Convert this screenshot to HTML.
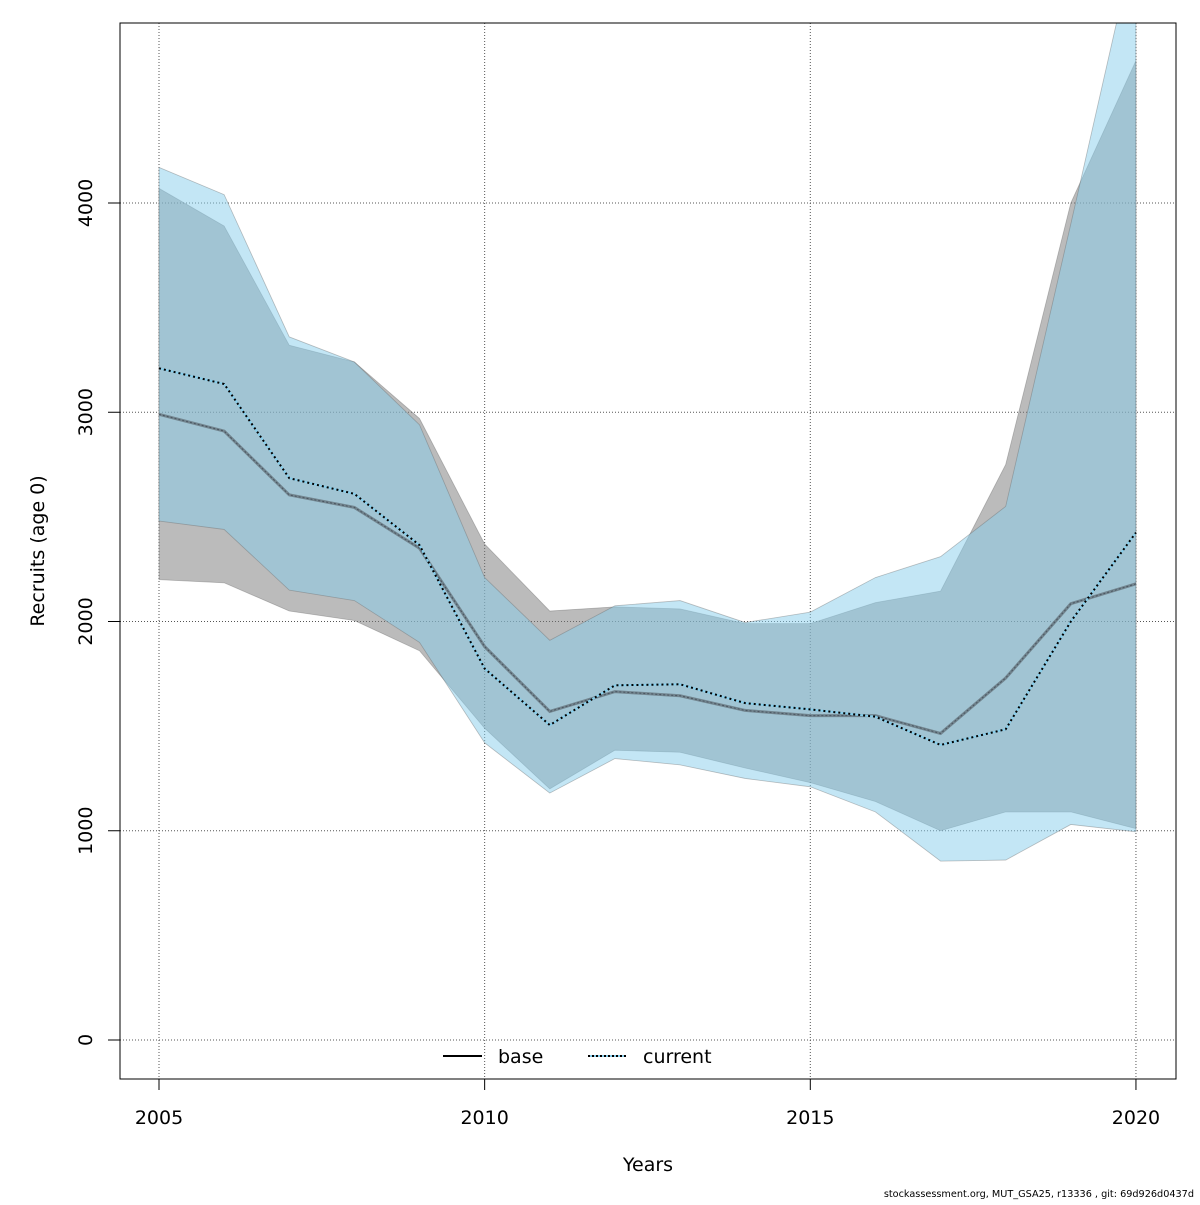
<!DOCTYPE html>
<html><head><meta charset="utf-8"><style>
html,body{margin:0;padding:0;background:#fff;}
svg text{font-family:"DejaVu Sans","Liberation Sans",sans-serif;fill:#000;}
</style></head><body>
<svg id="chart" width="1200" height="1200" viewBox="0 0 1200 1200" xmlns="http://www.w3.org/2000/svg">
<g id="grid"></g>
<g id="bands" clip-path="url(#clip)"></g>
<g id="lines" clip-path="url(#clip)"></g>
<defs><clipPath id="clip"><rect x="120" y="23" width="1056" height="1056"/></clipPath></defs>
<rect x="120" y="23" width="1056" height="1056" fill="none" stroke="#000" stroke-width="1"/>
<g id="axes"></g>
<text x="648" y="1171" font-size="19" text-anchor="middle">Years</text>
<text transform="translate(44,551) rotate(-90)" font-size="19" text-anchor="middle">Recruits (age 0)</text>
<g>
<line x1="443" y1="1056" x2="482" y2="1056" stroke="#000" stroke-width="2"/>
<text x="498" y="1063" font-size="19">base</text>
<line x1="588" y1="1056" x2="626" y2="1056" stroke="#87ceeb" stroke-width="2"/>
<line x1="588" y1="1056" x2="626" y2="1056" stroke="#000" stroke-width="2" stroke-dasharray="2,2"/>
<text x="643" y="1063" font-size="19">current</text>
</g>
<text x="1194" y="1197" font-size="9.7" text-anchor="end">stockassessment.org, MUT_GSA25, r13336 , git: 69d926d0437d</text>
</svg>
<script>
const years=[2005,2006,2007,2008,2009,2010,2011,2012,2013,2014,2015,2016,2017,2018,2019,2020];
const baseMid=[2990,2910,2605,2545,2350,1880,1570,1665,1645,1575,1550,1550,1465,1730,2085,2180];
const baseHi=[4070,3890,3320,3240,2970,2370,2050,2070,2060,1990,1990,2090,2145,2750,4000,4680];
const baseLo=[2200,2185,2050,2005,1860,1490,1200,1385,1375,1300,1230,1140,1000,1090,1090,1010];
const curMid=[3210,3135,2685,2610,2365,1775,1505,1695,1700,1610,1580,1545,1410,1485,2000,2425];
const curHi=[4170,4040,3360,3240,2940,2210,1910,2075,2100,1995,2045,2210,2310,2550,3900,5270];
const curLo=[2480,2440,2150,2100,1900,1420,1180,1345,1315,1250,1210,1090,855,860,1030,995];
const xTicks=[2005,2010,2015,2020];
const yTicks=[0,1000,2000,3000,4000];
const X=v=>159+(v-2005)*65.13;
const Y=v=>1040-v*0.20925;
const NS='http://www.w3.org/2000/svg';
function mk(tag,attrs,parent){const e=document.createElementNS(NS,tag);for(const k in attrs)e.setAttribute(k,attrs[k]);parent.appendChild(e);return e;}
const grid=document.getElementById('grid'),axes=document.getElementById('axes'),bands=document.getElementById('bands'),lines=document.getElementById('lines');
xTicks.forEach(t=>{
 const g=mk('line',{x1:X(t),x2:X(t),y1:23,y2:1079,stroke:'#555','stroke-dasharray':'1,2'},grid);
 
 
 const tk=mk('line',{x1:X(t),x2:X(t),y1:1079,y2:1090,stroke:'#000'},axes);
 
 
 const tx=mk('text',{x:X(t),y:1124,'font-size':19,'text-anchor':'middle'},axes);tx.textContent=t;
 
 
});
yTicks.forEach(t=>{
 const g=mk('line',{x1:120,x2:1176,y1:Y(t),y2:Y(t),stroke:'#555','stroke-dasharray':'1,2'},grid);
 
 
 const tk=mk('line',{x1:108,x2:120,y1:Y(t),y2:Y(t),stroke:'#000'},axes);
 
 
 const tx=mk('text',{transform:`translate(92,${Y(t)}) rotate(-90)`,'font-size':19,'text-anchor':'middle'},axes);tx.textContent=t;
 
 
});
function band(hi,lo,fill,name){
 const pts=years.map((y,i)=>X(y)+','+Y(hi[i])).concat(years.slice().reverse().map((y,j)=>X(y)+','+Y(lo[years.length-1-j])));
 const p=mk('polygon',{points:pts.join(' '),fill:fill,stroke:'rgba(100,100,100,0.4)','stroke-width':0.8},bands);
 
 
}
band(baseHi,baseLo,'rgba(120,120,120,0.5)','base-band');
band(curHi,curLo,'rgba(135,206,235,0.5)','current-band');
function line(vals,attrs,name){
 const l=mk('polyline',Object.assign({points:years.map((y,i)=>X(y)+','+Y(vals[i])).join(' '),fill:'none'},attrs),lines);
 
 
}
line(baseMid,{stroke:'#72858f','stroke-width':3},'base-line-halo');
line(baseMid,{stroke:'#4a5560','stroke-width':1,'stroke-dasharray':'2,2'},'base-line');
line(curMid,{stroke:'#87ceeb','stroke-width':2},'current-line-halo');
line(curMid,{stroke:'#000','stroke-width':2,'stroke-dasharray':'2,3'},'current-line');
</script>
</body></html>
